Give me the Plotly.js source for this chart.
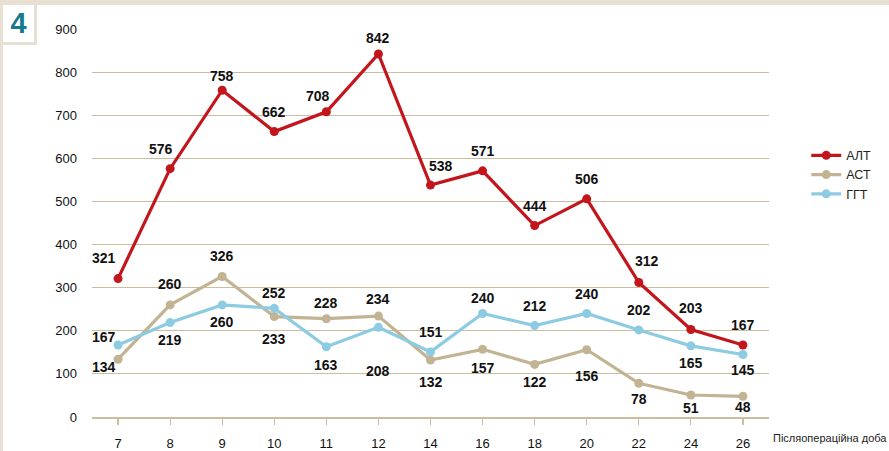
<!DOCTYPE html>
<html>
<head>
<meta charset="utf-8">
<script src="https://cdn.plot.ly/plotly-3.0.1.min.js"></script>
<style>
  html, body { margin: 0; padding: 0; background: #ffffff; }
  #wrap { position: relative; width: 889px; height: 451px; overflow: hidden; background: #ffffff; }
  #topband { position: absolute; left: 0; top: 0; width: 889px; height: 5px; background: #e8e0d2; }
  #leftband { position: absolute; left: 0; top: 0; width: 3px; height: 451px; background: #e8e0d2; }
  #numbox { position: absolute; left: 3px; top: 5px; width: 31px; height: 37px; background: #ffffff;
            border-right: 3px solid #e8e0d2; border-bottom: 3px solid #e8e0d2;
            font-family: "Liberation Sans", Arial, sans-serif; font-weight: bold; font-size: 29px;
            color: #167a8e; text-align: center; line-height: 37px; }
  #chart { position: absolute; left: 0; top: 0; width: 889px; height: 451px; }
</style>
</head>
<body>
<div id="wrap">
  <div id="topband"></div>
  <div id="leftband"></div>
  <div id="chart"></div>
  <div id="numbox">4</div>
</div>
<script>
const days = ['7', '8', '9', '10', '11', '12', '14', '16', '18', '20', '22', '24', '26'];
const alt = [321, 576, 758, 662, 708, 842, 538, 571, 444, 506, 312, 203, 167];
const ast = [134, 260, 326, 233, 228, 234, 132, 157, 122, 156, 78, 51, 48];
const ggt = [167, 219, 260, 252, 163, 208, 151, 240, 212, 240, 202, 165, 145];
const yTicks = [0, 100, 200, 300, 400, 500, 600, 700, 800, 900];

// value-label offsets in pixels (positive = up / right)
const altLabelDy = [21, 20, 14, 20, 16, 16, 19, 20, 20, 20, 21, 21, 20];
const altLabelDx = [-14, -9, 0, 0, -8, 0, 10, 0, 0, 0, 8, 0, 0];
const astLabelDy = [-8, 21, 20, -22, 16, 17, -22, -19, -18, -26, -16, -13, -11];
const astLabelDx = [-14, 0, 0, 0, 0, 0, 0, 0, 0, 0, 0, 0, 0];
const ggtLabelDy = [8, -17, -17, 15, -18, -44, 20, 16, 20, 20, 20, -17, -16];
const ggtLabelDx = [-14, 0, 0, 0, 0, 0, 0, 0, 0, 0, 0, 0, 0];

const RED = '#c3161c', BEIGE = '#c2b393', BLUE = '#8dcbe3', GRID = '#cbbd9f';

function trace(name, vals, color) {
  return {
    x: days, y: vals, name: name, type: 'scatter', mode: 'lines+markers',
    line: {color: color, width: 3.2},
    marker: {color: color, size: 9},
    hoverinfo: 'skip'
  };
}

const annotations = [];
function addLabels(vals, dy, dx) {
  vals.forEach((v, i) => {
    annotations.push({
      x: i, y: v, xref: 'x', yref: 'y', text: String(v), showarrow: false,
      xshift: dx[i], yshift: dy[i],
      font: {family: '"Liberation Sans", Arial, sans-serif', size: 14, color: '#111111', weight: 'bold'}
    });
  });
}
addLabels(alt, altLabelDy, altLabelDx);
addLabels(ast, astLabelDy, astLabelDx);
addLabels(ggt, ggtLabelDy, ggtLabelDx);

annotations.push({
  x: 1, y: 0, xref: 'paper', yref: 'paper', xanchor: 'left', yanchor: 'top',
  xshift: 2, yshift: -13, showarrow: false, text: 'Післяопераційна доба',
  font: {family: '"Liberation Sans", Arial, sans-serif', size: 11, color: '#222222'}
});

const layout = {
  width: 889, height: 451,
  margin: {l: 92, r: 120, t: 29, b: 34},
  paper_bgcolor: 'rgba(0,0,0,0)', plot_bgcolor: 'rgba(0,0,0,0)',
  font: {family: '"Liberation Sans", Arial, sans-serif', size: 13, color: '#111111'},
  showlegend: true,
  legend: {x: 1.055, y: 0.712, xanchor: 'left', yanchor: 'top',
           font: {size: 12.5, color: '#222222'}, bgcolor: 'rgba(0,0,0,0)', tracegroupgap: 0},
  xaxis: {
    type: 'category', range: [-0.5, 12.5], showgrid: false,
    showline: true, linecolor: GRID, linewidth: 1.5,
    ticks: 'outside', ticklen: 6, tickcolor: GRID, tickwidth: 1.2,
    ticklabelstandoff: 8, tickfont: {size: 13, color: '#111111'}, zeroline: false
  },
  yaxis: {
    range: [0, 900], tickvals: yTicks, ticktext: yTicks.map(String),
    showgrid: true, gridcolor: GRID, gridwidth: 1.2, zeroline: false,
    showline: false, ticks: '', ticklabelstandoff: 14,
    tickfont: {size: 13, color: '#111111'}
  },
  annotations: annotations
};

Plotly.newPlot('chart', [trace('АЛТ', alt, RED), trace('АСТ', ast, BEIGE), trace('ГГТ', ggt, BLUE)],
  layout, {displayModeBar: false, staticPlot: true});
</script>
</body>
</html>
